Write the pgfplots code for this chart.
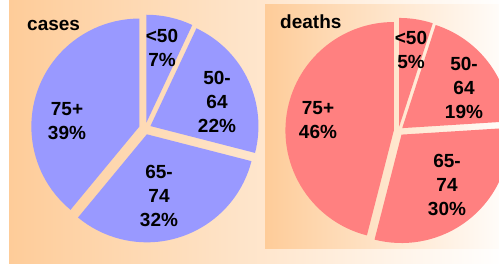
\documentclass[border=0pt]{standalone}
\usepackage{pgfplots}
\usepackage{pgfplotstable}
\pgfplotsset{compat=1.18}
\usepackage{fontspec}
\setmainfont{Liberation Sans}
\definecolor{peach}{RGB}{254,204,153}
\definecolor{pieblue}{RGB}{153,153,255}
\definecolor{piered}{RGB}{255,128,128}

% pct = share in %, lx/ly = label centre (ly measured from top)
\pgfplotstableread{
pct lx ly
7 162 47.5
22 217 102
32 159 196
39 67 121
}\casesdata
\pgfplotstableread{
pct lx ly
5 411 49.5
19 464 87.5
30 447 185
46 318 120.5
}\deathsdata

\expandafter\def\csname name0\endcsname{<50}
\expandafter\def\csname name1\endcsname{50-\\64}
\expandafter\def\csname name2\endcsname{65-\\74}
\expandafter\def\csname name3\endcsname{75+}

% #1 table, #2 prefix, #3 cx, #4 cy, #5 explode distance
\newcommand\computepie[5]{%
  \def\cum{0}%
  \pgfplotsforeachungrouped \i in {0,1,2,3}{%
    \pgfplotstablegetelem{\i}{pct}\of#1%
    \let\p\pgfplotsretval
    \pgfmathsetmacro\sa{90-3.6*\cum}%
    \pgfmathsetmacro\ea{90-3.6*(\cum+\p)}%
    \pgfmathsetmacro\midang{(\sa+\ea)/2}%
    \pgfmathsetmacro\ox{#3+#5*cos(\midang)}%
    \pgfmathsetmacro\oy{#4+#5*sin(\midang)}%
    \pgfmathsetmacro\cum{\cum+\p}%
    \expandafter\xdef\csname #2sa\i\endcsname{\sa}%
    \expandafter\xdef\csname #2ea\i\endcsname{\ea}%
    \expandafter\xdef\csname #2ox\i\endcsname{\ox}%
    \expandafter\xdef\csname #2oy\i\endcsname{\oy}%
    \expandafter\xdef\csname #2pct\i\endcsname{\p}%
    \pgfplotstablegetelem{\i}{lx}\of#1%
    \expandafter\xdef\csname #2lx\i\endcsname{\pgfplotsretval}%
    \pgfplotstablegetelem{\i}{ly}\of#1%
    \pgfmathsetmacro\tmpy{263-\pgfplotsretval}%
    \expandafter\xdef\csname #2ly\i\endcsname{\tmpy}%
  }%
}
\computepie{\casesdata}{c}{145}{134.4}{6}
\computepie{\deathsdata}{d}{398.5}{132}{4.7}

\begin{document}
\begin{tikzpicture}[lbl/.style={align=center, inner sep=0pt, font=\bfseries\fontsize{19bp}{24bp}\selectfont}]
\begin{axis}[name=ax, x=1bp, y=1bp, xmin=0, xmax=499, ymin=0, ymax=263,
  hide axis, clip=true]
  \fill[white] (axis cs:0,0) rectangle (axis cs:499,263);
  \shade[left color=peach, right color=white] (axis cs:9,0) rectangle (axis cs:505,263);
  \shade[left color=peach, right color=white] (axis cs:265,15) rectangle (axis cs:515,258);
  \pgfplotsinvokeforeach{0,1,2,3}{%
    \fill[pieblue] (axis cs:\csname cox#1\endcsname,\csname coy#1\endcsname)
      -- ++(\csname csa#1\endcsname:108bp)
      arc[start angle=\csname csa#1\endcsname, end angle=\csname cea#1\endcsname, radius=108bp] -- cycle;
    \fill[piered] (axis cs:\csname dox#1\endcsname,\csname doy#1\endcsname)
      -- ++(\csname dsa#1\endcsname:108.4bp)
      arc[start angle=\csname dsa#1\endcsname, end angle=\csname dea#1\endcsname, radius=108.4bp] -- cycle;
  }
  \pgfplotsinvokeforeach{0,1,2,3}{%
    \node[lbl] at (axis cs:\csname clx#1\endcsname,\csname cly#1\endcsname)
      {\csname name#1\endcsname\\\csname cpct#1\endcsname\%};
    \node[lbl] at (axis cs:\csname dlx#1\endcsname,\csname dly#1\endcsname)
      {\csname name#1\endcsname\\\csname dpct#1\endcsname\%};
  }
  \node[lbl, anchor=base west] at (axis cs:27,233) {cases};
  \node[lbl, anchor=base west] at (axis cs:280,234.5) {deaths};
\end{axis}
\pgfresetboundingbox
\path[use as bounding box] (ax.south west) rectangle (ax.north east);
\end{tikzpicture}
\end{document}
